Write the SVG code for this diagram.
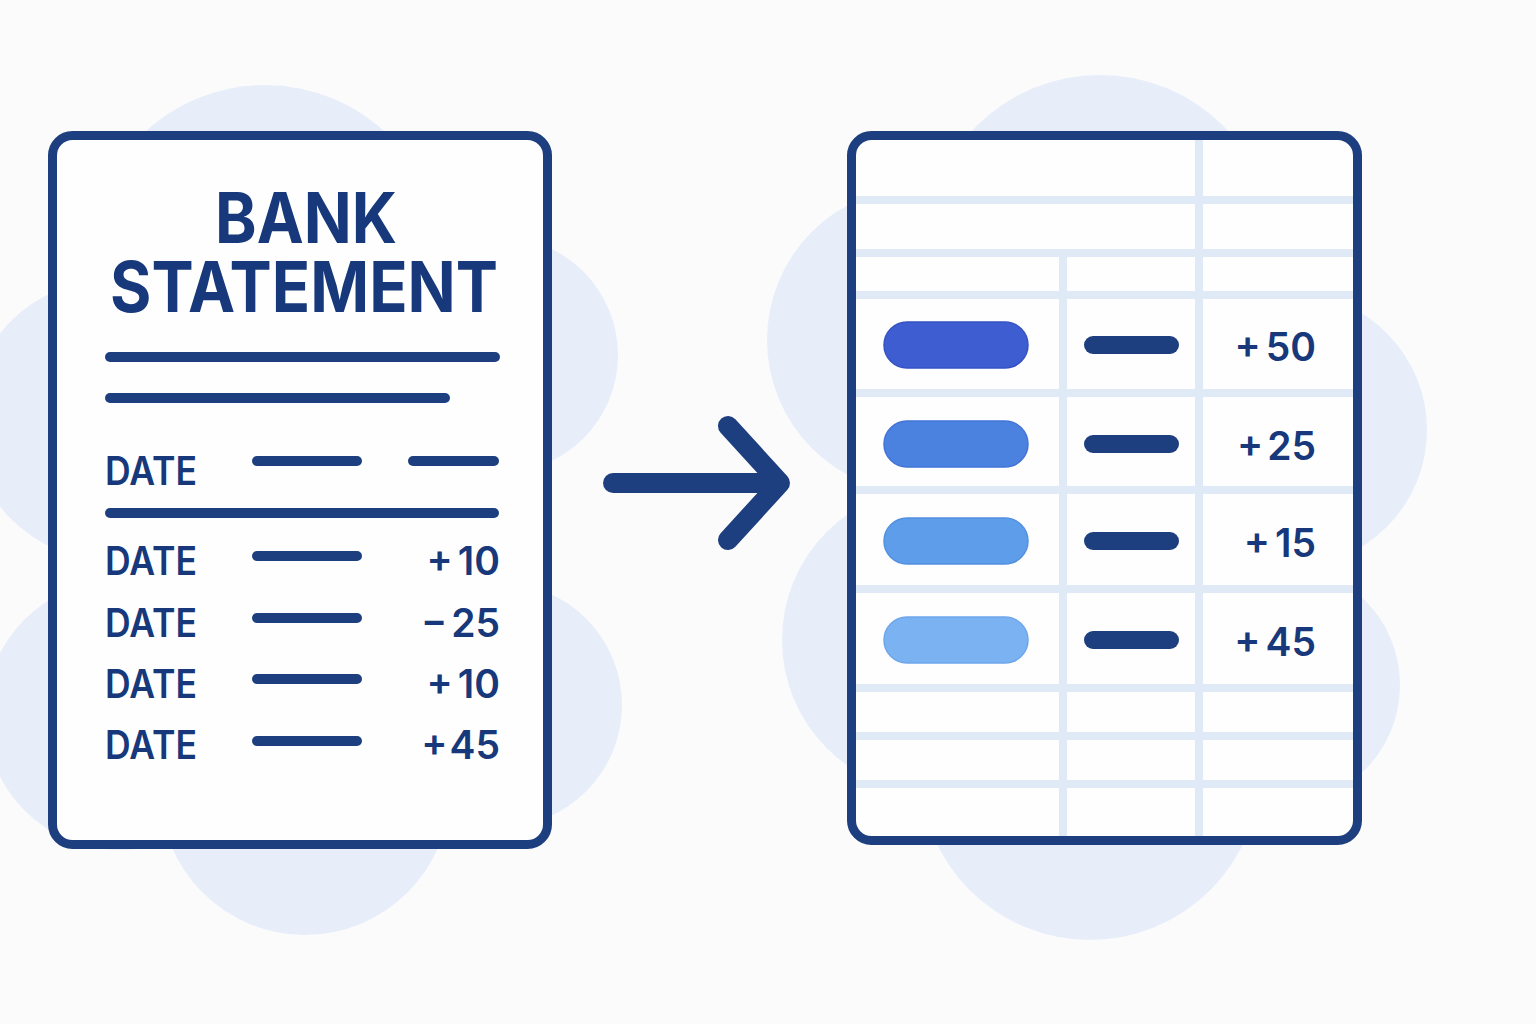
<svg xmlns="http://www.w3.org/2000/svg" width="1536" height="1024" viewBox="0 0 1536 1024">
  <style>
    .blob { fill: #e7eef9; }
    .doc { fill: #fefefe; stroke: #1e3f7f; stroke-width: 9; }
    .frame { fill: none; stroke: #1e3f7f; stroke-width: 9; }
    .rule { stroke: #1e3f7f; stroke-width: 10; stroke-linecap: round; fill: none; }
    .grid { stroke: #e0eaf6; stroke-width: 8; fill: none; }
    .txt { font-family: Inter, "Liberation Sans", sans-serif; fill: #17387a; font-weight: 600; }
    .title { font-size: 70px; font-weight: 700; }
    .date { font-size: 39px; }
    .num { font-size: 39px; }
    .bar { fill: #1e3f7f; }
    .arrow { stroke: #1e3f7f; stroke-width: 20; stroke-linecap: round; stroke-linejoin: round; fill: none; }
  </style>
  <rect x="0" y="0" width="1536" height="1024" fill="#fbfbfc"/>

  <g id="background-left">
    <circle class="blob" cx="265" cy="262" r="177"/>
    <circle class="blob" cx="500" cy="355" r="118"/>
    <circle class="blob" cx="110" cy="420" r="140"/>
    <circle class="blob" cx="500" cy="705" r="122"/>
    <circle class="blob" cx="120" cy="715" r="135"/>
    <circle class="blob" cx="305" cy="790" r="145"/>
    <rect class="blob" x="90" y="250" width="450" height="560"/>
  </g>
  <g id="background-right">
    <circle class="blob" cx="1100" cy="250" r="175"/>
    <circle class="blob" cx="920" cy="340" r="153"/>
    <circle class="blob" cx="1290" cy="430" r="137"/>
    <circle class="blob" cx="935" cy="640" r="153"/>
    <circle class="blob" cx="1280" cy="685" r="120"/>
    <circle class="blob" cx="1090" cy="770" r="170"/>
    <rect class="blob" x="900" y="250" width="400" height="560"/>
  </g>

  <g id="bank-statement">
    <rect class="doc" x="52.5" y="135.5" width="495" height="709" rx="20"/>
    <text class="txt title" x="215" y="243" textLength="182" lengthAdjust="spacingAndGlyphs">BANK</text>
    <text class="txt title" x="110" y="312" textLength="388" lengthAdjust="spacingAndGlyphs">STATEMENT</text>
    <line class="rule" x1="110" y1="357" x2="495" y2="357"/>
    <line class="rule" x1="110" y1="398" x2="445" y2="398"/>
    <text class="txt date" x="105" y="485" textLength="92" lengthAdjust="spacingAndGlyphs">DATE</text>
    <line class="rule" x1="257" y1="461" x2="357" y2="461"/>
    <line class="rule" x1="413" y1="461" x2="494" y2="461"/>
    <line class="rule" x1="110" y1="513" x2="494" y2="513"/>
    <text class="txt date" x="105" y="575" textLength="92" lengthAdjust="spacingAndGlyphs">DATE</text>
    <line class="rule" x1="257" y1="556" x2="357" y2="556"/>
    <text class="txt num" x="500" y="575" text-anchor="end">+<tspan dx="5">10</tspan></text>
    <text class="txt date" x="105" y="637" textLength="92" lengthAdjust="spacingAndGlyphs">DATE</text>
    <line class="rule" x1="257" y1="618" x2="357" y2="618"/>
    <text class="txt num" x="500" y="637" text-anchor="end">−<tspan dx="5">25</tspan></text>
    <text class="txt date" x="105" y="698" textLength="92" lengthAdjust="spacingAndGlyphs">DATE</text>
    <line class="rule" x1="257" y1="679" x2="357" y2="679"/>
    <text class="txt num" x="500" y="698" text-anchor="end">+<tspan dx="5">10</tspan></text>
    <text class="txt date" x="105" y="759" textLength="92" lengthAdjust="spacingAndGlyphs">DATE</text>
    <line class="rule" x1="257" y1="741" x2="357" y2="741"/>
    <text class="txt num" x="500" y="759" text-anchor="end">+<tspan dx="2">45</tspan></text>
  </g>

  <g id="connectors">
    <line class="arrow" x1="613" y1="483" x2="776" y2="483"/>
    <polyline class="arrow" points="728,426 780,483 728,540"/>
  </g>

  <g id="spreadsheet">
    <rect x="852" y="136" width="505" height="704" rx="20" fill="#fefefe"/>
    <g id="grid">
      <line class="grid" x1="856" y1="200" x2="1353" y2="200"/>
      <line class="grid" x1="856" y1="253" x2="1353" y2="253"/>
      <line class="grid" x1="856" y1="295" x2="1353" y2="295"/>
      <line class="grid" x1="856" y1="393" x2="1353" y2="393"/>
      <line class="grid" x1="856" y1="490" x2="1353" y2="490"/>
      <line class="grid" x1="856" y1="589" x2="1353" y2="589"/>
      <line class="grid" x1="856" y1="688" x2="1353" y2="688"/>
      <line class="grid" x1="856" y1="736" x2="1353" y2="736"/>
      <line class="grid" x1="856" y1="784" x2="1353" y2="784"/>
      <line class="grid" x1="1199" y1="140" x2="1199" y2="836"/>
      <line class="grid" x1="1063" y1="253" x2="1063" y2="836"/>
    </g>
    <rect class="frame" x="851.5" y="135.5" width="506" height="705" rx="20"/>

    <g id="row-1">
      <rect x="884" y="322" width="144" height="46" rx="23" fill="#3e5dd0" stroke="#3552c4" stroke-width="1.5"/>
      <rect class="bar" x="1084" y="336" width="95" height="18" rx="9"/>
      <text class="txt num" x="1316" y="361" text-anchor="end">+<tspan dx="5">50</tspan></text>
    </g>
    <g id="row-2">
      <rect x="884" y="421" width="144" height="46" rx="23" fill="#4b82e0" stroke="#4274d6" stroke-width="1.5"/>
      <rect class="bar" x="1084" y="435" width="95" height="18" rx="9"/>
      <text class="txt num" x="1316" y="460" text-anchor="end">+<tspan dx="5">25</tspan></text>
    </g>
    <g id="row-3">
      <rect x="884" y="518" width="144" height="46" rx="23" fill="#5d9de9" stroke="#5390e0" stroke-width="1.5"/>
      <rect class="bar" x="1084" y="532" width="95" height="18" rx="9"/>
      <text class="txt num" x="1316" y="557" text-anchor="end">+<tspan dx="5">15</tspan></text>
    </g>
    <g id="row-4">
      <rect x="884" y="617" width="144" height="46" rx="23" fill="#7bb2f1" stroke="#6ea6ea" stroke-width="1.5"/>
      <rect class="bar" x="1084" y="631" width="95" height="18" rx="9"/>
      <text class="txt num" x="1316" y="656" text-anchor="end">+<tspan dx="5">45</tspan></text>
    </g>
  </g>
</svg>
